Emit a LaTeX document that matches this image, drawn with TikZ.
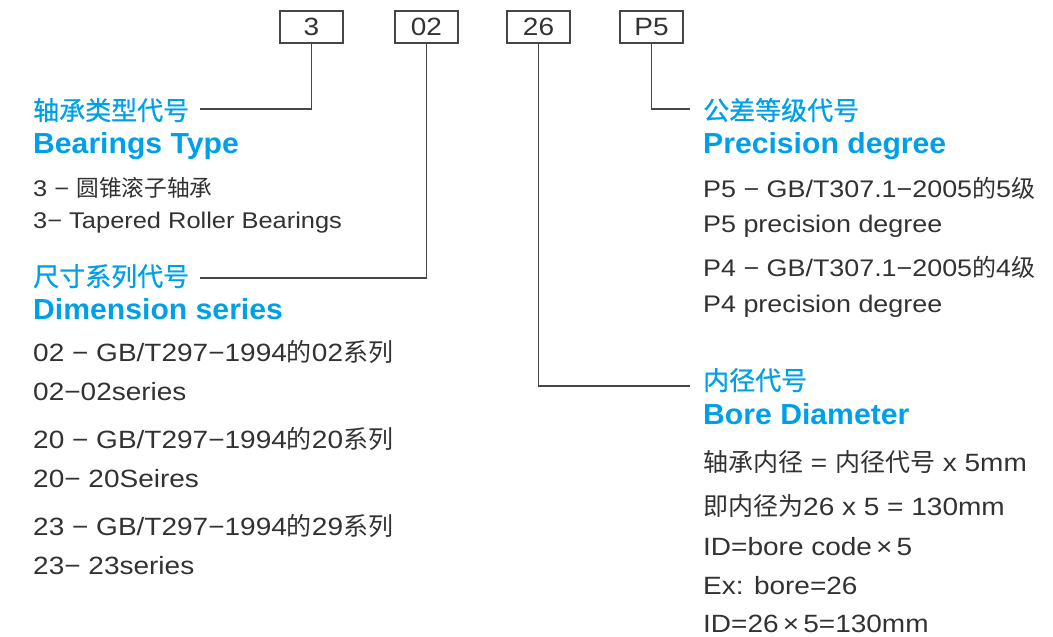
\documentclass[tikz,border=0pt]{standalone}
\usepackage{fontspec}
\setmainfont{Liberation Sans}[FakeStretch=1.12]
\newfontfamily\cjk{Noto Sans CJK SC}
\newfontfamily\cjkhead{Noto Sans CJK SC}[FakeBold=0.8]
\newfontfamily\headfont{Liberation Sans}[FakeStretch=1.04]
\newcommand{\zh}[1]{{\cjk #1}}
\definecolor{hblue}{RGB}{0,160,233}
\definecolor{tgray}{RGB}{50,50,50}
\definecolor{lgray}{RGB}{70,70,70}
\tikzset{
  codebox/.style={draw=lgray, line width=1.2pt, minimum width=63pt, minimum height=32pt, inner sep=0pt, text=tgray, font=\fontsize{25}{25}\selectfont},
  zhhead/.style={anchor=base west, inner sep=0pt, text=hblue, font=\cjkhead\fontsize{26}{26}\selectfont},
  enhead/.style={anchor=base west, inner sep=0pt, text=hblue, font=\headfont\bfseries\fontsize{29}{29}\selectfont},
  body/.style={anchor=base west, inner sep=0pt, text=tgray, font=\fontsize{#1}{#1}\selectfont},
  body/.default=25,
  conn/.style={draw=lgray, line width=1.3pt}
}
\begin{document}
\begin{tikzpicture}[x=1pt,y=-1pt]
\useasboundingbox (0,0) rectangle (1053,637);
% code boxes
\node[codebox] (b3)  at (311.5,27) {3};
\node[codebox] (b02) at (426.5,27) {02};
\node[codebox] (b26) at (538.5,27) {26};
\node[codebox] (bP5) at (651.5,27) {P5};
% connector ends
\coordinate (c3)  at (200,109);
\coordinate (c02) at (200,278);
\coordinate (c26) at (690,386);
\coordinate (cP5) at (690,109);
\draw[conn] (b3.south) |- (c3);
\draw[conn] (b02.south) |- (c02);
\draw[conn] (b26.south) |- (c26);
\draw[conn] (bP5.south) |- (cP5);
% left column
\node[zhhead] (h1) at (33,120) {轴承类型代号};
\node[enhead] (e1) at (33,153) {Bearings Type};
\node[body=22.7] (t11) at (33,196) {3 − \zh{圆锥滚子轴承}};
\node[body=22.7] (t12) at (33,228) {3− Tapered Roller Bearings};
\node[zhhead] (h2) at (33,286) {尺寸系列代号};
\node[enhead] (e2) at (33,319) {Dimension series};
\node[body] (t21) at (33,361) {02 − GB/T297−1994\zh{的}02\zh{系列}};
\node[body] (t22) at (33,400) {02−02series};
\node[body] (t23) at (33,448) {20 − GB/T297−1994\zh{的}20\zh{系列}};
\node[body] (t24) at (33,487) {20− 20Seires};
\node[body] (t25) at (33,535.5) {23 − GB/T297−1994\zh{的}29\zh{系列}};
\node[body] (t26) at (33,574) {23− 23series};
% right column
\node[zhhead] (h3) at (703,120) {公差等级代号};
\node[enhead] (e3) at (703,153) {Precision degree};
\node[body=24] (t31) at (703,197.5) {P5 − GB/T307.1−2005\zh{的}5\zh{级}};
\node[body=24] (t32) at (703,232) {P5 precision degree};
\node[body=24] (t33) at (703,276.5) {P4 − GB/T307.1−2005\zh{的}4\zh{级}};
\node[body=24] (t34) at (703,312.5) {P4 precision degree};
\node[zhhead] (h4) at (703,390) {内径代号};
\node[enhead] (e4) at (703,424) {Bore Diameter};
\node[body] (t41) at (703,471) {\zh{轴承内径} = \zh{内径代号} x 5mm};
\node[body] (t42) at (703,515) {\zh{即内径为}26 x 5 = 130mm};
\node[body] (t43) at (703,555) {ID=bore code\,×\,5};
\node[body] (t44) at (703,594) {Ex: bore=26};
\node[body] (t45) at (703,632) {ID=26\,×\,5=130mm};
\end{tikzpicture}
\end{document}
